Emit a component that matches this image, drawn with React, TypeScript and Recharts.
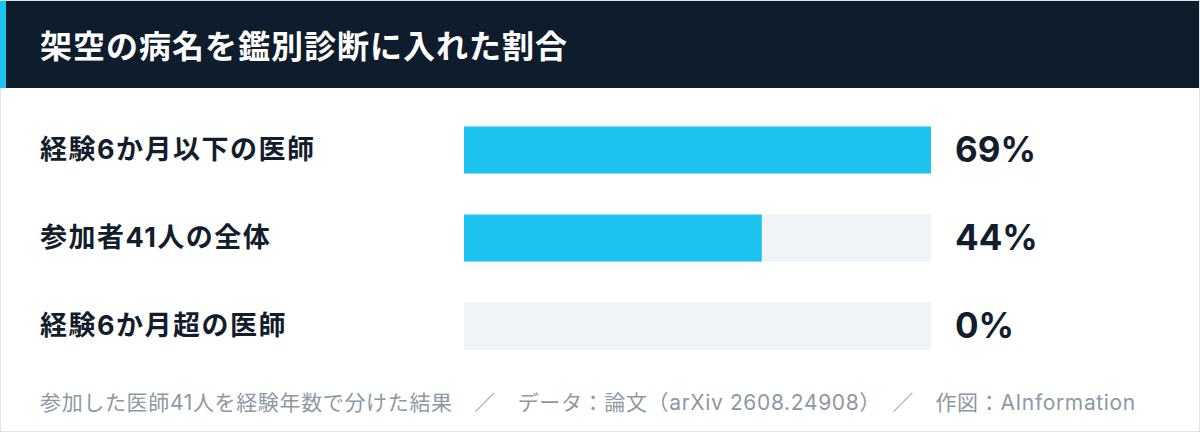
import React from 'react';
import { BarChart, Bar, XAxis, YAxis } from 'recharts';

const TITLE = '架空の病名を鑑別診断に入れた割合';
const categories = ['経験6か月以下の医師', '参加者41人の全体', '経験6か月超の医師'];
const shares = [69, 44, 0];
const valueLabels = ['69%', '44%', '0%'];
const FOOTER = '参加した医師41人を経験年数で分けた結果　／　データ：論文（arXiv 2608.24908）　／　作図：AInformation';

const data = categories.map((c, i) => ({ name: c, share: shares[i], label: valueLabels[i] }));

const FONT = 'Inter, "Noto Sans CJK JP", "Noto Sans", sans-serif';
const CJK = '"Noto Sans CJK JP", "Noto Sans", sans-serif';
const CYAN = '#1dc3ef';
const NAVY = '#0f1c2c';
const TRACK = '#f1f4f7';
const INK = '#131e2c';

const LeftTick = (props: any) => {
  const { y, payload } = props;
  return (
    <text x={40} y={y} dy="0.34em" textAnchor="start" fontSize={27} fontWeight={700} fill={INK} fontFamily={FONT} letterSpacing={1.5}>
      {payload.value}
    </text>
  );
};

const RightTick = (props: any) => {
  const { x, y, payload } = props;
  return (
    <text x={x} y={y} dy="0.36em" textAnchor="start" fontSize={35} fontWeight={700} fill={INK} fontFamily={FONT}>
      {payload.value}
    </text>
  );
};

const TrackedBar = (props: any) => {
  const { x, y, width, height, background, fill } = props;
  return (
    <g>
      {background ? (
        <rect x={background.x} y={background.y} width={background.width} height={background.height} fill={TRACK} />
      ) : null}
      {width > 0.5 ? <rect x={x} y={y} width={width} height={height} fill={fill} /> : null}
    </g>
  );
};

export default function App() {
  return (
    <div style={{ position: 'fixed', left: 0, top: 0, width: 1200, height: 432, background: '#fff', fontFamily: FONT, overflow: 'hidden' }}>
      <div style={{ position: 'absolute', left: 0, top: 0, width: 1200, height: 432, boxSizing: 'border-box', border: '1px solid #dde4ea' }} />
      <div style={{ position: 'absolute', left: 0, top: 1, width: 1199, height: 87, background: NAVY }} />
      <div style={{ position: 'absolute', left: 0, top: 1, width: 6, height: 87, background: CYAN }} />
      <div style={{ position: 'absolute', left: 40, top: 1, height: 87, lineHeight: '87px', color: '#fff', fontSize: 32, fontWeight: 700, letterSpacing: 1, whiteSpace: 'nowrap', fontFamily: CJK }}>
        {TITLE}
      </div>
      <div style={{ position: 'absolute', left: 0, top: 105 }}>
        <BarChart width={1200} height={265} data={data} layout="vertical" margin={{ top: 0.5, right: 0, bottom: 0.5, left: 40 }}>
          <XAxis type="number" dataKey="share" domain={[0, 'dataMax']} hide />
          <YAxis yAxisId="left" type="category" dataKey="name" width={424} axisLine={false} tickLine={false} tick={<LeftTick />} interval={0} />
          <YAxis yAxisId="right" orientation="right" type="category" dataKey="label" width={269} axisLine={false} tickLine={false} tickSize={0} tickMargin={24} tick={<RightTick />} interval={0} />
          <Bar yAxisId="left" dataKey="share" fill={CYAN} barSize={47} minPointSize={0.01} background={{ fill: TRACK }} shape={<TrackedBar />} isAnimationActive={false} />
        </BarChart>
      </div>
      <div style={{ position: 'absolute', left: 40, top: 391, height: 24, lineHeight: '24px', color: '#8d98a4', fontSize: 21, whiteSpace: 'nowrap', letterSpacing: 0.65 }}>
        {FOOTER}
      </div>
    </div>
  );
}
